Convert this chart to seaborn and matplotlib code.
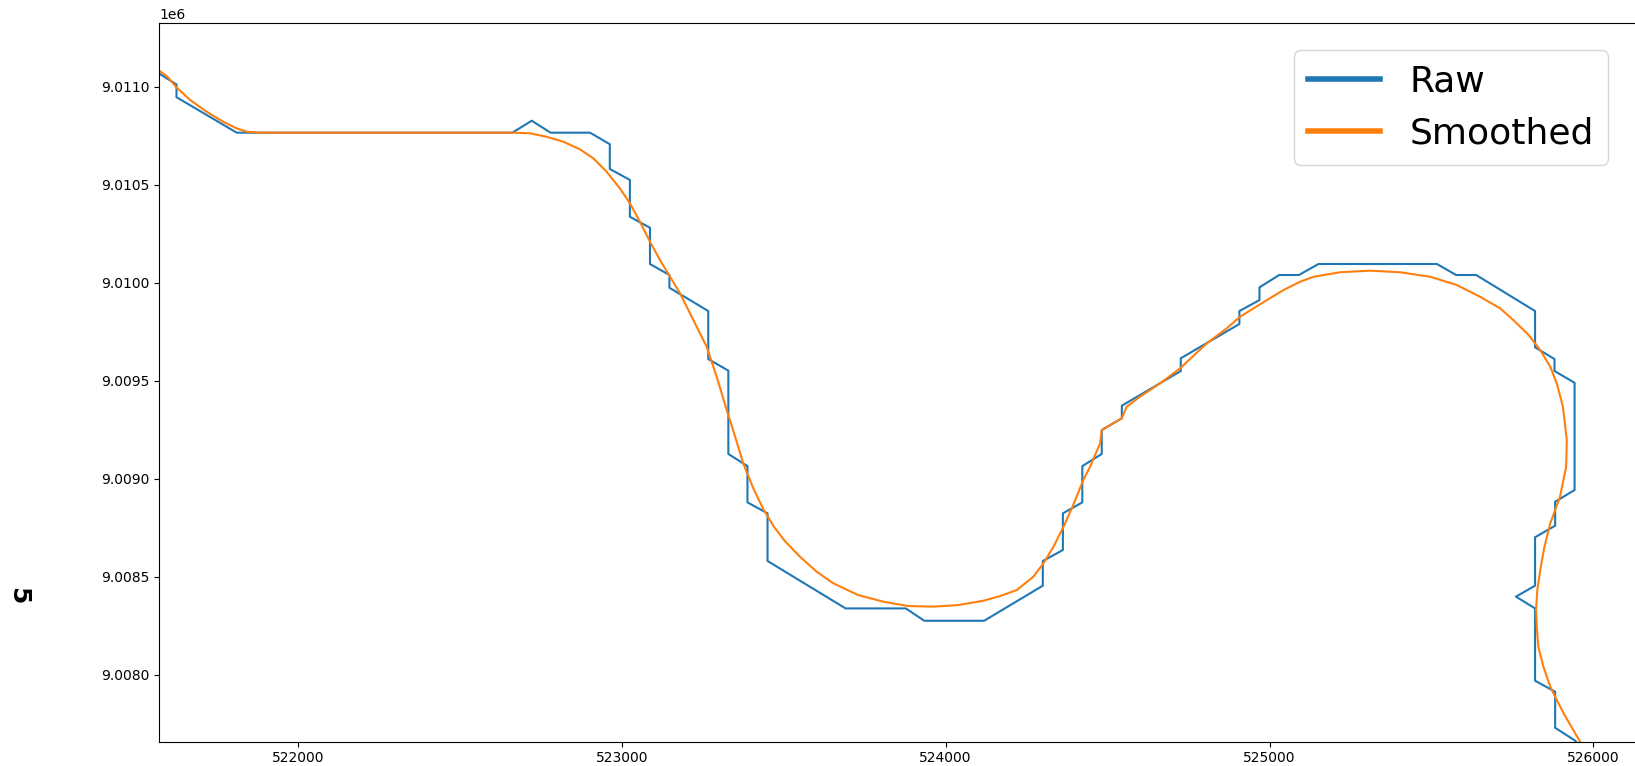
import numpy as np
import pandas as pd
import matplotlib
matplotlib.use("Agg")
import matplotlib.pyplot as plt
import seaborn as sns

# Raw path (easting, northing)
raw_x = [521571, 521625, 521625, 521811, 522662, 522722, 522780, 522902, 522963, 522963,
         523025, 523025, 523087, 523087, 523147, 523147, 523267, 523267, 523329, 523329,
         523388, 523388, 523450, 523450, 523691, 523877, 523934, 524119, 524300, 524300,
         524362, 524362, 524422, 524422, 524482, 524482, 524544, 524544, 524726, 524726,
         524907, 524907, 524969, 524969, 525030, 525091, 525151, 525517, 525576, 525638,
         525820, 525820, 525880, 525880, 525942, 525942, 525882, 525882, 525820, 525820,
         525761, 525820, 525820, 525882, 525882, 525944, 525975]
raw_y = [9011068, 9011012, 9010947, 9010766, 9010766, 9010827, 9010766, 9010766, 9010707, 9010581,
         9010525, 9010337, 9010281, 9010096, 9010040, 9009975, 9009856, 9009611, 9009552, 9009127,
         9009065, 9008880, 9008824, 9008581, 9008339, 9008339, 9008276, 9008276, 9008455, 9008581,
         9008637, 9008824, 9008880, 9009065, 9009127, 9009249, 9009309, 9009373, 9009550, 9009615,
         9009790, 9009856, 9009912, 9009977, 9010040, 9010040, 9010096, 9010096, 9010040, 9010040,
         9009856, 9009671, 9009611, 9009550, 9009490, 9008943, 9008883, 9008761, 9008702, 9008455,
         9008399, 9008339, 9007970, 9007914, 9007730, 9007664, 9007600]

# Smoothed path
smooth_x = [521571, 521595, 521625, 521667, 521718, 521769, 521811, 521842, 521883, 522661,
            522717, 522768, 522819, 522871, 522912, 522953, 522994, 523025, 523056, 523087,
            523118, 523149, 523180, 523221, 523262, 523293, 523324, 523350, 523375, 523406,
            523437, 523470, 523505, 523550, 523602, 523653, 523730, 523808, 523885, 523962,
            524039, 524116, 524168, 524220, 524271, 524302, 524333, 524364, 524394, 524425,
            524446, 524477, 524482, 524544, 524559, 524600, 524662, 524724, 524806, 524868,
            524909, 524992, 525043, 525095, 525136, 525218, 525311, 525403, 525496, 525578,
            525650, 525712, 525753, 525800, 525836, 525867, 525887, 525906, 525918, 525916,
            525897, 525867, 525849, 525836, 525827, 525823, 525826, 525830, 525846, 525867,
            525887, 525908, 525959, 525990]
smooth_y = [9011083, 9011055, 9010997, 9010933, 9010873, 9010822, 9010788, 9010771, 9010766, 9010766,
            9010763, 9010745, 9010720, 9010681, 9010635, 9010567, 9010482, 9010406, 9010312, 9010210,
            9010116, 9010031, 9009946, 9009810, 9009674, 9009521, 9009351, 9009215, 9009079, 9008952,
            9008845, 9008755, 9008680, 9008603, 9008526, 9008467, 9008407, 9008373, 9008351, 9008348,
            9008356, 9008378, 9008402, 9008433, 9008501, 9008569, 9008654, 9008756, 9008866, 9008994,
            9009062, 9009181, 9009249, 9009309, 9009368, 9009419, 9009487, 9009564, 9009691, 9009768,
            9009827, 9009912, 9009963, 9010006, 9010031, 9010054, 9010062, 9010054, 9010031, 9009989,
            9009929, 9009870, 9009810, 9009734, 9009657, 9009572, 9009487, 9009368, 9009198, 9009062,
            9008909, 9008773, 9008654, 9008535, 9008433, 9008331, 9008229, 9008143, 9008041, 9007939,
            9007872, 9007804, 9007659, 9007580]

series_labels = ["Raw", "Smoothed"]
side_label = "5"

raw_df = pd.DataFrame({"x": raw_x, "y": raw_y})
smooth_df = pd.DataFrame({"x": smooth_x, "y": smooth_y})

fig = plt.figure(figsize=(16.35, 7.66), dpi=100)
ax = fig.add_axes([159 / 1635, 24.3 / 766, 1481 / 1635, 718.4 / 766])

sns.lineplot(data=raw_df, x="x", y="y", sort=False, estimator=None, ax=ax,
             color="#1f77b4", linewidth=1.5, label=series_labels[0])
sns.lineplot(data=smooth_df, x="x", y="y", sort=False, estimator=None, ax=ax,
             color="#ff7f0e", linewidth=1.5, label=series_labels[1])

ax.set_xlim(521571, 526144)
ax.set_ylim(9007659, 9011324)
ax.set_xlabel("")
ax.set_ylabel("")
ax.ticklabel_format(axis="y", useOffset=False)

leg = ax.legend(loc="upper right", bbox_to_anchor=(1608 / 1635, 1 - 50 / 766),
                bbox_transform=fig.transFigure, borderaxespad=0, fontsize=26)
for line in leg.get_lines():
    line.set_linewidth(4)

fig.text(18 / 1635, 1 - 596 / 766, side_label, rotation=270, fontsize=18,
         fontweight="bold", ha="center", va="center")

fig.savefig("out.png", dpi=100)
